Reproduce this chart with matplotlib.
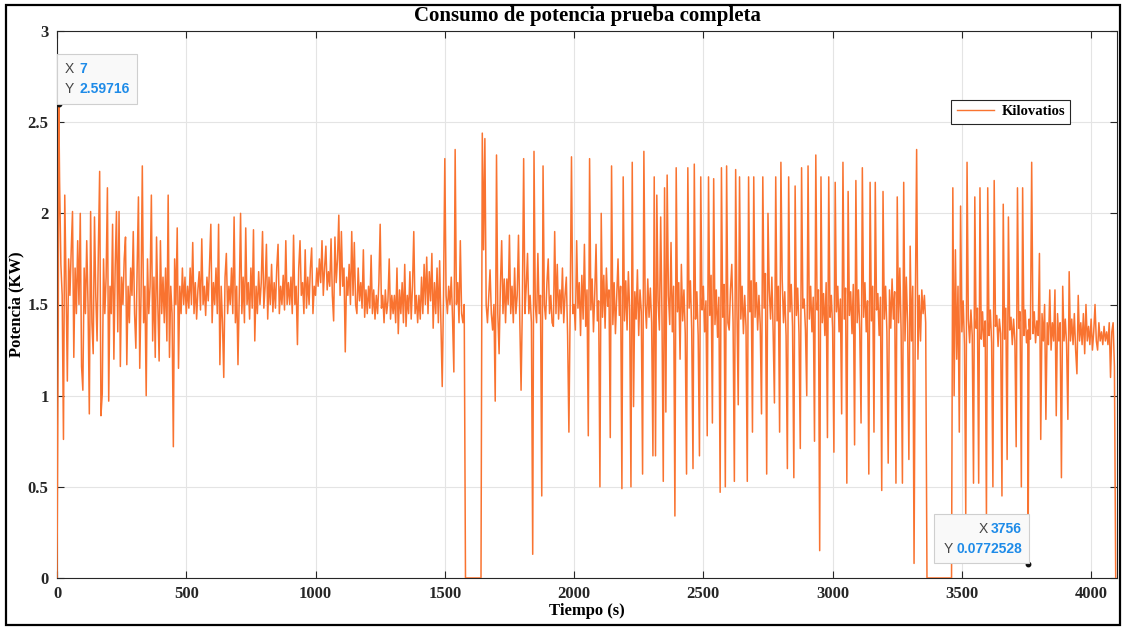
import numpy as np
import matplotlib
matplotlib.use("Agg")
import matplotlib.pyplot as plt
from matplotlib.patches import Rectangle
from matplotlib.transforms import IdentityTransform

# Power samples (kW), one value every 5 s, grouped in 500 s stretches
step_s = 5

kw_0000 = [
    0.00, 1.40, 2.18, 1.72, 1.55, 0.76, 2.10, 1.62, 1.08, 1.75, 1.55, 1.80, 2.01, 1.21, 1.70, 1.45, 1.85, 1.50, 2.00, 1.16,
    1.03, 1.70, 1.45, 1.85, 1.50, 0.90, 2.01, 1.40, 1.23, 1.98, 1.55, 1.30, 1.80, 2.23, 0.89, 1.01, 1.75, 1.45, 1.65, 2.14,
    0.97, 1.60, 1.45, 1.94, 1.20, 1.70, 2.01, 1.35, 2.01, 1.16, 1.65, 1.50, 1.75, 1.87, 1.17, 1.60, 1.40, 1.70, 1.55, 1.90,
    1.45, 1.26, 1.70, 2.09, 1.15, 1.55, 2.26, 1.40, 1.60, 1.00, 1.75, 1.45, 1.60, 2.10, 1.30, 1.65, 1.21, 1.87, 1.50, 1.19,
    1.85, 1.45, 1.65, 1.40, 1.70, 1.30, 2.10, 1.21, 1.60, 1.45, 0.72, 1.75, 1.50, 1.92, 1.15, 1.60, 1.45, 1.70, 1.50, 1.65,
]
kw_0500 = [
    1.45, 1.60, 1.48, 1.70, 1.50, 1.84, 1.45, 1.62, 1.42, 1.58, 1.68, 1.47, 1.86, 1.50, 1.60, 1.44, 1.65, 1.52, 1.72, 1.94,
    1.40, 1.62, 1.50, 1.70, 1.45, 1.94, 1.17, 1.60, 1.40, 1.10, 1.65, 1.78, 1.45, 1.60, 1.50, 1.70, 1.45, 1.98, 1.40, 1.60,
    1.17, 1.55, 2.00, 1.45, 1.65, 1.40, 1.92, 1.50, 1.62, 1.42, 1.70, 1.48, 1.91, 1.30, 1.60, 1.45, 1.68, 1.50, 1.62, 1.90,
    1.48, 1.60, 1.83, 1.42, 1.65, 1.50, 1.72, 1.46, 1.62, 1.48, 1.70, 1.83, 1.45, 1.60, 1.50, 1.66, 1.47, 1.85, 1.50, 1.62,
    1.50, 1.65, 1.45, 1.88, 1.50, 1.60, 1.28, 1.70, 1.85, 1.55, 1.62, 1.45, 1.80, 1.48, 1.65, 1.50, 1.70, 1.81, 1.45, 1.60,
]
kw_1000 = [
    1.55, 1.70, 1.60, 1.75, 1.62, 1.85, 1.55, 1.70, 1.82, 1.58, 1.68, 1.60, 1.86, 1.55, 1.41, 1.87, 1.62, 1.75, 1.99, 1.55,
    1.90, 1.60, 1.70, 1.24, 1.65, 1.55, 1.72, 1.50, 1.90, 1.55, 1.84, 1.50, 1.45, 1.70, 1.52, 1.62, 1.48, 1.80, 1.43, 1.58,
    1.45, 1.60, 1.48, 1.77, 1.45, 1.58, 1.42, 1.55, 1.45, 1.62, 1.94, 1.48, 1.55, 1.40, 1.58, 1.45, 1.52, 1.75, 1.42, 1.55,
    1.45, 1.55, 1.40, 1.70, 1.34, 1.58, 1.45, 1.62, 1.40, 1.72, 1.38, 1.55, 1.45, 1.68, 1.42, 1.60, 1.90, 1.45, 1.55, 1.40,
    1.55, 1.42, 1.65, 1.45, 1.72, 1.50, 1.76, 1.45, 1.68, 1.52, 1.78, 1.37, 1.62, 1.45, 1.70, 1.40, 1.74, 1.38, 1.05, 1.55,
]
kw_1500 = [
    2.30, 1.55, 1.45, 1.60, 1.50, 1.65, 1.42, 1.13, 2.35, 1.50, 1.62, 1.40, 1.85, 1.45, 1.40, 1.50, 0.00, 0.00, 0.00, 0.00,
    0.00, 0.00, 0.00, 0.00, 0.00, 0.00, 0.00, 0.00, 0.00, 2.44, 1.80, 2.41, 1.50, 1.40, 1.55, 1.69, 1.45, 1.36, 1.50, 0.97,
    2.32, 1.45, 1.23, 1.60, 1.85, 1.45, 1.64, 1.40, 1.64, 1.50, 1.88, 1.45, 1.60, 1.40, 1.70, 1.45, 1.55, 1.88, 1.42, 1.03,
    1.50, 2.30, 1.45, 1.60, 1.78, 1.45, 1.55, 1.40, 0.13, 2.34, 1.50, 1.40, 1.78, 1.45, 1.55, 0.45, 2.26, 1.50, 1.42, 1.62,
    1.75, 1.45, 1.55, 1.40, 1.38, 1.90, 1.45, 1.72, 1.42, 1.58, 1.45, 1.70, 1.40, 1.55, 1.65, 1.33, 0.80, 1.50, 2.31, 1.45,
]
kw_2000 = [
    1.50, 1.36, 1.85, 1.48, 1.62, 1.33, 1.66, 1.42, 1.83, 1.38, 1.58, 0.78, 2.30, 1.47, 1.64, 1.35, 1.56, 1.83, 1.41, 1.52,
    0.50, 2.00, 1.43, 1.66, 1.37, 1.70, 1.49, 1.58, 0.77, 2.26, 1.39, 1.62, 1.34, 1.55, 1.75, 1.44, 1.60, 0.49, 2.20, 1.41,
    1.63, 1.36, 1.68, 1.47, 0.50, 2.28, 0.94, 1.57, 1.42, 1.69, 1.33, 1.58, 1.46, 0.57, 2.34, 1.51, 1.37, 1.64, 1.43, 1.59,
    1.40, 0.67, 2.20, 0.67, 2.10, 1.52, 1.36, 1.98, 1.44, 0.53, 2.14, 0.91, 2.21, 1.55, 1.39, 1.84, 1.35, 1.60, 0.34, 2.25,
    1.46, 1.62, 1.20, 1.72, 1.41, 1.58, 1.34, 0.57, 2.25, 1.48, 1.63, 1.36, 0.60, 2.27, 1.42, 1.57, 1.33, 0.67, 2.20, 1.47,
]
kw_2500 = [
    1.60, 1.35, 1.52, 0.78, 2.20, 1.44, 1.66, 0.85, 2.19, 1.39, 1.58, 1.32, 1.54, 0.47, 2.25, 1.43, 1.61, 0.50, 2.26, 1.40,
    1.36, 1.58, 1.72, 1.40, 0.53, 2.24, 1.47, 0.95, 2.20, 1.42, 1.60, 1.34, 1.55, 1.38, 0.53, 2.20, 1.46, 1.63, 0.80, 2.20,
    1.43, 1.62, 1.36, 1.55, 1.39, 0.90, 2.20, 1.48, 1.67, 0.57, 2.00, 1.58, 1.42, 1.65, 1.35, 0.96, 2.20, 1.41, 1.60, 0.80,
    2.28, 1.64, 1.40, 1.57, 1.33, 0.60, 2.20, 1.46, 1.61, 1.38, 0.55, 2.15, 1.44, 1.59, 1.34, 0.71, 2.25, 1.48, 1.53, 1.36,
    1.00, 2.26, 1.42, 1.60, 1.35, 1.54, 0.75, 2.32, 1.47, 1.58, 0.15, 2.20, 1.40, 1.56, 1.33, 1.62, 0.77, 2.20, 1.43, 1.55,
]
kw_3000 = [
    1.37, 0.69, 2.17, 1.46, 1.60, 1.35, 1.53, 0.90, 2.28, 1.42, 1.59, 0.52, 2.12, 1.44, 1.57, 1.34, 1.61, 0.73, 2.18, 1.40,
    1.58, 1.36, 0.85, 2.25, 1.43, 1.62, 1.35, 1.52, 0.57, 2.17, 1.41, 1.60, 0.80, 2.17, 1.47, 1.56, 1.33, 1.54, 0.48, 2.12,
    1.42, 1.60, 1.35, 0.63, 1.58, 1.37, 1.64, 1.42, 1.57, 0.52, 2.09, 1.40, 1.70, 1.35, 0.52, 2.17, 1.30, 1.65, 1.40, 0.65,
    1.82, 1.30, 1.60, 0.08, 1.50, 2.35, 1.20, 1.55, 1.30, 1.58, 1.45, 1.55, 1.40, 0.00, 0.00, 0.00, 0.00, 0.00, 0.00, 0.00,
    0.00, 0.00, 0.00, 0.00, 0.00, 0.00, 0.00, 0.00, 0.00, 0.00, 0.00, 0.00, 0.00, 2.14, 1.00, 1.80, 1.20, 1.60, 0.80, 2.04,
]
kw_3500 = [
    1.35, 1.52, 1.28, 0.35, 2.28, 1.42, 1.29, 1.47, 1.33, 0.52, 2.09, 1.37, 1.48, 0.52, 2.14, 1.31, 1.46, 1.27, 1.41, 0.33,
    2.14, 1.33, 1.47, 1.29, 0.50, 2.18, 1.38, 1.44, 1.27, 1.42, 1.34, 0.45, 2.05, 1.31, 1.48, 0.65, 1.98, 1.36, 1.43, 1.28,
    1.42, 1.30, 0.72, 2.14, 1.37, 1.46, 0.50, 2.14, 1.33, 1.47, 1.29, 1.36, 1.42, 1.31, 2.28, 1.34, 1.46, 1.29, 1.41, 1.33,
    1.78, 0.76, 1.45, 1.30, 1.50, 0.87, 1.40, 1.28, 1.58, 1.25, 1.40, 1.30, 1.58, 0.89, 1.45, 1.30, 1.40, 0.55, 1.60, 1.30,
    1.42, 1.28, 0.87, 1.68, 1.30, 1.42, 1.28, 1.45, 1.25, 1.12, 1.55, 1.30, 1.40, 1.28, 1.45, 1.23, 1.50, 1.30, 1.38, 1.28,
]
kw_4000 = [
    1.42, 1.25, 1.35, 1.50, 1.30, 1.25, 1.40, 1.30, 1.35, 1.28, 1.38, 1.30, 1.35, 1.28, 1.40, 1.10, 1.35, 1.40, 1.16, 0.00,
]

# Samples highlighted with data tips
tip_t = [7, 3756]
tip_kw = [2.59716, 0.0772528]

x_ticks = [0, 500, 1000, 1500, 2000, 2500, 3000, 3500, 4000]
y_ticks = [0, 0.5, 1, 1.5, 2, 2.5, 3]
y_tick_labels = ["0", "0.5", "1", "1.5", "2", "2.5", "3"]

for seg in (kw_0000, kw_0500, kw_1000, kw_1500, kw_2000, kw_2500, kw_3000, kw_3500):
    assert len(seg) == 100
assert len(kw_4000) == 20

grid_kw = np.concatenate([kw_0000, kw_0500, kw_1000, kw_1500, kw_2000,
                          kw_2500, kw_3000, kw_3500, kw_4000])
grid_t = np.arange(len(grid_kw)) * step_s
all_t = np.concatenate([grid_t, tip_t])
all_kw = np.concatenate([grid_kw, tip_kw])
order = np.argsort(all_t, kind="stable")
t = all_t[order]
kw = all_kw[order]

plt.rcParams["font.family"] = ["Liberation Serif", "DejaVu Serif"]
plt.rcParams["font.weight"] = "bold"

W, H = 1123, 627
fig = plt.figure(figsize=(W / 100, H / 100), dpi=100)
ax = fig.add_axes([57 / W, 1 - 578 / H, 1060 / W, 547 / H])

line_color = "#F97330"
ax.plot(t, kw, color=line_color, lw=1.1, label="Kilovatios", zorder=3)
ax.plot(tip_t, tip_kw, "o", ms=3.2, color="#111111", zorder=5)

ax.set_xlim(0, 4100)
ax.set_ylim(0, 3)
ax.set_xticks(x_ticks)
ax.set_xticklabels([str(v) for v in x_ticks])
ax.set_yticks(y_ticks)
ax.set_yticklabels(y_tick_labels)
ax.grid(True, color="#e4e4e4", lw=0.8)
ax.set_axisbelow(True)
ax.tick_params(direction="in", top=True, right=True, length=5, width=0.8,
               colors="#262626", labelsize=12, pad=6)
for sp in ax.spines.values():
    sp.set_color("#262626")
    sp.set_linewidth(0.8)

ax.set_title("Consumo de potencia prueba completa", fontsize=15,
             fontweight="bold", pad=7)
ax.set_xlabel("Tiempo (s)", fontsize=12, fontweight="bold")
ax.set_ylabel("Potencia (KW)", fontsize=12, fontweight="bold")
ax.xaxis.set_label_coords(0.5, -0.045)
ax.yaxis.set_label_coords(-0.031, 0.5)

leg = ax.legend(loc="upper right", bbox_to_anchor=(0.963, 0.887),
                fancybox=False, framealpha=1, edgecolor="#262626",
                prop={"family": "Liberation Serif", "weight": "bold", "size": 10.5},
                handlelength=2.6, borderpad=0.35, handletextpad=0.5)
leg.get_frame().set_linewidth(0.8)
for h in leg.get_lines():
    h.set_linewidth(1.0)

# Data tips drawn in pixel space next to their samples
renderer = fig.canvas.get_renderer()
ident = IdentityTransform()
label_col = "#444444"
value_col = "#1E8BE8"
tip_font = {"family": "Liberation Sans", "size": 10}


def data_tip(xv, yv, side):
    px, py = ax.transData.transform((xv, yv))
    vx = f"{xv:g}"
    vy = f"{yv:g}"
    if side == "right":
        w, h = 80, 50
        x0, y0 = px - 2, py
    else:
        w, h = 95, 49
        x0, y0 = px + 1 - w, py + 1
    box = Rectangle((x0, y0), w, h, transform=ident, facecolor="#f9f9f9",
                    edgecolor="#cfcfcf", lw=0.8, zorder=6, clip_on=False)
    fig.add_artist(box)
    rows = [("X", vx, y0 + h - 15), ("Y", vy, y0 + h - 35)]
    for lab, val, ry in rows:
        if side == "right":
            fig.text(x0 + 8, ry, lab, transform=ident, color=label_col,
                     va="center", ha="left", fontweight="normal", zorder=7, **tip_font)
            fig.text(x0 + 23, ry, val, transform=ident, color=value_col,
                     va="center", ha="left", fontweight="bold", zorder=7, **tip_font)
        else:
            tv = fig.text(x0 + w - 7, ry, val, transform=ident, color=value_col,
                          va="center", ha="right", fontweight="bold", zorder=7, **tip_font)
            ext = tv.get_window_extent(renderer)
            fig.text(ext.x0 - 3, ry, lab, transform=ident, color=label_col,
                     va="center", ha="right", fontweight="normal", zorder=7, **tip_font)


data_tip(tip_t[0], tip_kw[0], "right")
data_tip(tip_t[1], tip_kw[1], "left")

# Outer frame around the whole figure
fig.add_artist(Rectangle((6, 2), 1114, 620, transform=ident, fill=False,
                         edgecolor="black", lw=1.6))

fig.savefig("out.png", dpi=100)
